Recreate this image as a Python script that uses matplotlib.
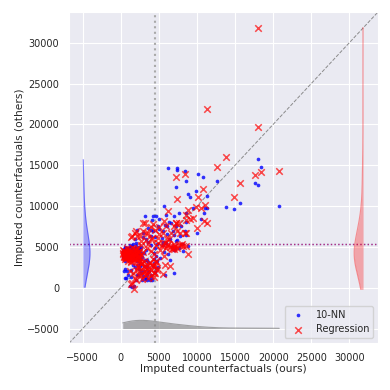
import matplotlib
matplotlib.use("Agg")
import matplotlib.pyplot as plt
import numpy as np
import seaborn as sns

# imputed counterfactuals: ours (x), 10-NN and regression (y), one entry per unit
ours = [18030, 20790, 17950, 18390, 17670, 11310, 13860, 12620, 15590, 14800,
        10780, 10080, 8480, 7290, 7380, 7420, 6200, 8510, 9900, 8840,
        9120, 11080, 11340, 9470, 10910, 10550, 10040, 8510, 7590, 6980,
        5670, 5980, 6590, 8510, 8810, 8600, 7240, 6980, 6950, 7720,
        7900, 8390, 4670, 4230, 3140, 5070, 4150, 5800, 6000, 7290,
        2140, 3570, 3900, 4190, 4880, 5540, 4010, 5980, 6190, 6410,
        7070, 5760, 5670, 5500, 4700, 4500, 4300, 4600, 4400, 4100,
        3800, 3400, 3140, 3600, 4900, 5200, 5400, 6400, 6700, 7600,
        8000, 6100, 6300, 5000, 4450, 3300, 3600, 3900, 2900, 2600,
        300, 450, 600, 700, 800, 900, 1000, 1100, 1200, 1300,
        1400, 1500, 1600, 1700, 1800, 1900, 2000, 2100, 2200, 2300,
        2400, 2500, 350, 550, 750, 950, 1150, 1350, 1550, 1750,
        1950, 2150, 2350, 520, 750, 520, 700, 1180, 1700, 1530,
        900, 1300, 1600, 1900, 2200, 2490, 2700, 2000, 1400, 1530,
        1300, 2000, 2500, 1830, 2920, 3360, 2800, 3000, 3200, 3500,
        2600, 2900, 400, 600, 7000, 7400, 8200, 5600, 6800,
        250, 400, 500, 650, 850, 1050, 1250, 1450, 1650, 1850,
        2050, 2250, 2450, 600, 1000, 1400, 1800, 2200, 2600, 1100,
        2100, 2400, 2700, 3000, 3300, 3600, 3900, 4200, 4500, 4700,
        2500, 2800, 3100, 3400, 3700, 4000, 4300, 4600, 2300, 3500]
knn = [15700, 9990, 12600, 14720, 12800, 11220, 9910, 13050, 10320, 9580,
       13540, 13880, 14300, 12330, 14640, 14400, 14660, 13030, 11830, 11460,
       11100, 9790, 9790, 9740, 9180, 8450, 6730, 9180, 9180, 8810,
       9990, 8850, 7960, 8030, 5100, 6400, 5710, 4650, 1800, 6320,
       7550, 6900, 8760, 8760, 8760, 8450, 8270, 7630, 7540, 7540,
       7050, 7340, 7050, 7000, 7540, 6930, 6320, 5510, 4080, 3340,
       4690, 1500, 4400, 5200, 5300, 4800, 4200, 3900, 3000, 930,
       930, 930, 1100, 1900, 2500, 3600, 6100, 5900, 5000, 4800,
       5300, 6600, 8100, 7200, 6200, 5900, 5600, 5200, 6700, 5000,
       4480, 4200, 4400, 3900, 4600, 4100, 4700, 4300, 4800, 4600,
       5000, 4200, 4700, 3600, 4900, 4400, 5100, 3800, 4600, 4100,
       5000, 3500, 3700, 5000, 4800, 3500, 5200, 3900, 5300, 4000,
       5500, 3300, 4500, 2240, 2100, 1220, 1150, 200, 200, 50,
       1500, 2200, 2800, 2500, 1600, 2650, 2850, 1000, 1300, 5100,
       4690, 4500, 4700, 6000, 6200, 4600, 3800, 4300, 3400, 2600,
       2000, 1400, 2000, 4900, 6500, 5800, 4500, 5600, 7000,
       4300, 4700, 3900, 4500, 4200, 3800, 4500, 4000, 4400, 3900,
       4700, 4200, 4400, 3300, 4900, 3400, 4600, 3600, 4300, 4100,
       1500, 2300, 1800, 2600, 1200, 3100, 1500, 2700, 1900, 3300,
       3000, 900, 2100, 3400, 2000, 1200, 3500, 2400, 2800, 1600]
reg = [31860, 14340, 19720, 14220, 13790, 21870, 15950, 14720, 12850, 11140,
       12030, 11070, 13900, 13500, 10850, 6900, 9340, 8850, 9910, 9510,
       8450, 10160, 7960, 8500, 8110, 9790, 7340, 6730, 7900, 7540,
       8200, 7540, 6730, 8300, 4080, 5100, 7960, 5000, 4700, 6700,
       5200, 6730, 5200, 7750, 7960, 7470, 6100, 5500, 5100, 7960,
       6320, 6730, 7400, 3500, 6120, 6730, 4500, 4800, 5300, 2650,
       5100, 2730, 3870, 1630, 2200, 2600, 1800, 3300, 4100, 2800,
       3000, 2300, 1500, 1200, 5500, 4600, 5100, 5000, 4700, 5200,
       5400, 6000, 5900, 6600, 7100, 5800, 5400, 6000, 7000, 5700,
       4200, 3900, 4100, 3700, 4400, 3600, 4000, 4300, 3800, 4500,
       3500, 4100, 3900, 4300, 3700, 4000, 4600, 3400, 4200, 3800,
       4400, 3600, 4600, 3500, 4800, 3300, 4700, 3600, 4900, 3400,
       4200, 4800, 3200, 3900, 4200, 4000, 3800, 2000, -200, 610,
       4300, 3100, 1800, 1200, 2500, 2000, 1600, 900, 400, 6300,
       6200, 7000, 6300, 6730, 7960, 6730, 3000, 2600, 2000, 4900,
       5200, 4400, 4500, 3700, 5300, 4900, 5100, 5300, 4900,
       4100, 3800, 4400, 3600, 4200, 3900, 4400, 3700, 4100, 3500,
       4300, 3900, 4500, 4300, 4600, 3300, 4700, 3600, 4000, 3800,
       2200, 1500, 2900, 1900, 2500, 2100, 1400, 2700, 1800, 2400,
       3100, 1100, 3300, 1700, 3000, 2200, 1300, 3200, 2600, 2800]

lims = (-6800, 33750)


def kde(v, widen=1.6):
  v = np.asarray(v, dtype=float)
  bw = widen * v.std(ddof=1) * len(v) ** (-1 / 5)
  grid = np.linspace(v.min(), v.max(), 300)
  dens = np.exp(-0.5 * ((grid[:, None] - v[None, :]) / bw) ** 2).sum(axis=1)
  return grid, dens / dens.max()


sns.set_style("darkgrid")
fig = plt.figure(figsize=(3.9, 3.9), dpi=100)
ax = fig.add_axes([0.177, 0.12, 0.792, 0.849])

ax.plot(lims, lims, '--', color='gray', lw=0.7, alpha=0.9, zorder=1)
ax.axvline(np.mean(ours), color='darkgray', ls=':', lw=1.5, zorder=1)
ax.axhline(np.mean(knn), color='b', ls=':', lw=1, alpha=0.6, zorder=1)
ax.axhline(np.mean(reg), color='r', ls=':', lw=1, alpha=0.5, zorder=1)

ax.scatter(ours, knn, s=7, c='b', alpha=0.8, linewidths=0, label='10-NN', zorder=3)
ax.scatter(ours, reg, s=22, c='r', marker='x', alpha=0.7, linewidths=1.1,
           label='Regression', zorder=3)

# marginal densities along the edges
g, d = kde(knn)
ax.fill_betweenx(g, -5000, -5000 + 950 * d, color='b', alpha=0.3, lw=0)
ax.plot(-5000 + 950 * d, g, color='b', alpha=0.4, lw=0.8)
g, d = kde(reg)
ax.fill_betweenx(g, 31800, 31800 - 1170 * d, color='r', alpha=0.3, lw=0)
ax.plot(31800 - 1170 * d, g, color='r', alpha=0.4, lw=0.8)
g, d = kde(ours)
ax.fill_between(g, -5000, -5000 + 1000 * d, color='gray', alpha=0.6, lw=0)
ax.plot(g, -5000 + 1000 * d, color='gray', alpha=0.7, lw=0.8)

ax.set_xlim(lims)
ax.set_ylim(lims)
ax.set_xticks(np.arange(-5000, 30001, 5000))
ax.set_yticks(np.arange(-5000, 30001, 5000))
ax.tick_params(labelsize=7)
ax.set_xlabel('Imputed counterfactuals (ours)', fontsize=7.7, labelpad=1)
ax.set_ylabel('Imputed counterfactuals (others)', fontsize=7.7, labelpad=1)
ax.legend(loc='lower right', fontsize=7)

fig.savefig('out.png', dpi=100)
